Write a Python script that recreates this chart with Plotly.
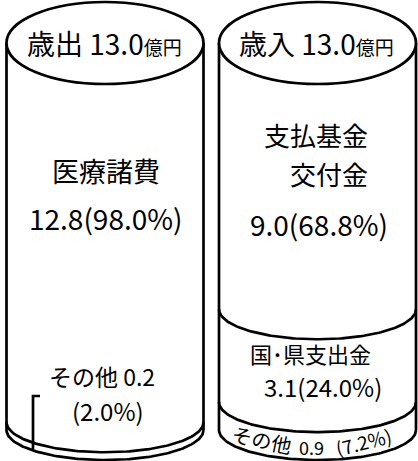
import numpy as np
import plotly.graph_objects as go

# ---------------- data ----------------
cyl_titles = ["歳出", "歳入"]
cyl_totals = [13.0, 13.0]
cyl_unit = "億円"

exp_labels = ["医療諸費", "その他"]
exp_values = [12.8, 0.2]
exp_shares = [98.0, 2.0]

rev_labels = ["支払基金\n交付金", "国･県支出金", "その他"]
rev_values = [9.0, 3.1, 0.9]
rev_shares = [68.8, 24.0, 7.2]

# ---------------- geometry / style ----------------
W, H = 418, 461
TOP_PX, BOT_PX = 43, 430          # pixel rows of 100 % and 0 %
PX_PER = (BOT_PX - TOP_PX) / 100.0


def ypx(p):
    """pixel row -> percent axis value"""
    return 100 - (p - TOP_PX) / PX_PER


RX = 98.5
CX = [105, 317.5]
RY_TOP = 41 / PX_PER
RY_LOW = 30 / PX_PER
LW = 2.7
FONT = "Noto Sans CJK JP"

fig = go.Figure()


def add_line(xs, ys):
    fig.add_trace(go.Scatter(x=xs, y=ys, mode="lines",
                             line=dict(color="black", width=LW),
                             hoverinfo="skip", showlegend=False))


def lower_arc(cx, level):
    t = np.linspace(0, np.pi, 120)
    return cx + RX * np.cos(t), level - RY_LOW * np.sin(t)


for i, shares in enumerate([exp_shares, rev_shares]):
    cx = CX[i]
    add_line([cx - RX, cx - RX], [100, 0])
    add_line([cx + RX, cx + RX], [100, 0])
    xs, ys = lower_arc(cx, 0)
    add_line(xs, ys)
    levels = 100 - np.cumsum(shares)[:-1]
    for lv in levels:
        xs, ys = lower_arc(cx, lv)
        add_line(xs, ys)
    fig.add_shape(type="circle", xref="x", yref="y",
                  x0=cx - RX, x1=cx + RX, y0=100 - RY_TOP, y1=100 + RY_TOP,
                  line=dict(color="black", width=LW), fillcolor="white",
                  layer="above")

# leader line for the small "その他" slice of 歳出
lx = 33
s = np.sqrt(1 - ((lx - CX[0]) / RX) ** 2)
band_mid = exp_shares[-1] / 2 - RY_LOW * s
add_line([lx + 7, lx, lx], [ypx(396), ypx(396), band_mid - 0.6])


def ann(text, x, ypix, size, angle=0, xanchor="center", align="center"):
    fig.add_annotation(text=text, x=x, y=ypx(ypix), xref="x", yref="y",
                       showarrow=False, xanchor=xanchor, yanchor="middle",
                       textangle=angle, align=align,
                       font=dict(family=FONT, size=size, color="black"))


# titles
for i in range(2):
    ann(f"{cyl_titles[i]} {cyl_totals[i]:.1f}"
        f"<span style='font-size:19px'>{cyl_unit}</span>",
        CX[i] - 1, 43, 28)

# expenditure labels
ann(exp_labels[0], 106, 170, 27)
ann(f"{exp_values[0]}({exp_shares[0]}%)", 106, 218, 28)
ann(f"{exp_labels[1]} {exp_values[1]}", 102, 376, 23)
ann(f"({exp_shares[1]}%)", 108, 410, 24)

# revenue labels
l1, l2 = rev_labels[0].split("\n")
ann(l1, 370, 134, 26, xanchor="right")
ann(l2, 370, 173, 26, xanchor="right")
ann(f"{rev_values[0]}({rev_shares[0]}%)", 319, 224, 28)
ann(rev_labels[1], 310, 353, 22)
ann(f"{rev_values[1]}({rev_shares[1]}%)", 323, 386, 24)
ann(rev_labels[2], 262, 439, 20, angle=12)
ann(f"{rev_values[2]}", 311, 447, 18)
ann(f"({rev_shares[2]}%)", 363, 441, 19, angle=-14)

fig.update_layout(
    width=W, height=H, margin=dict(l=0, r=0, t=0, b=0),
    paper_bgcolor="white", plot_bgcolor="white", showlegend=False,
    xaxis=dict(range=[0, W], visible=False, fixedrange=True),
    yaxis=dict(range=[ypx(H), ypx(0)], visible=False, fixedrange=True),
)

fig.write_html(
    "out.html",
    config={"displayModeBar": False},
    post_script="document.body.style.margin='0';"
                "document.body.style.overflow='hidden';",
)
